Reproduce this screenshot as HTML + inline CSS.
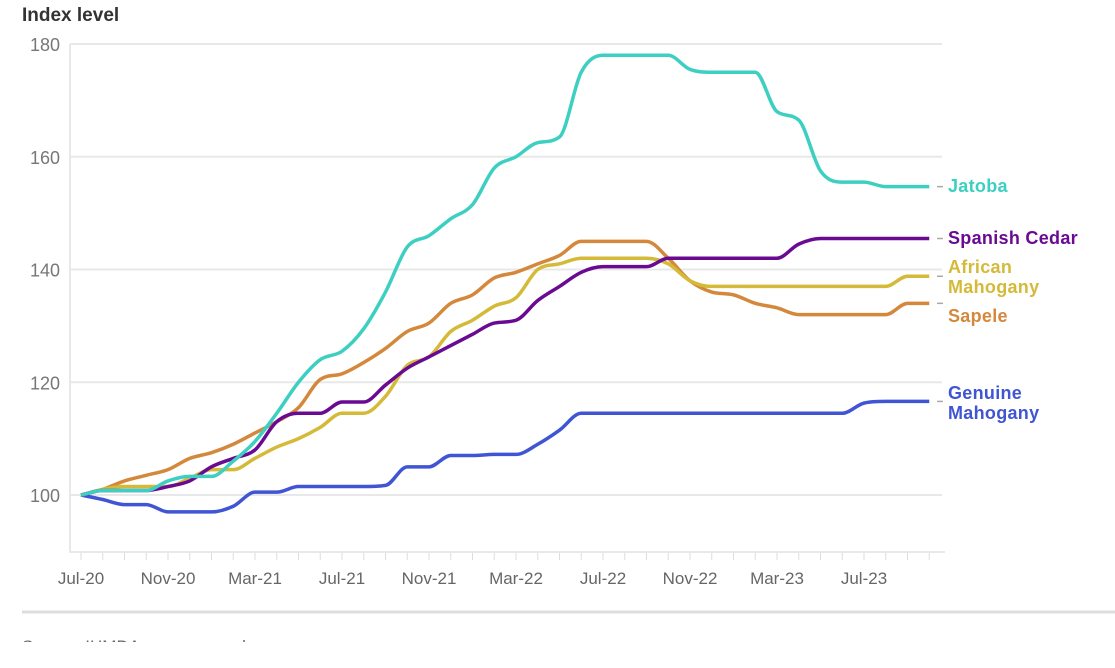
<!DOCTYPE html>
<html><head><meta charset="utf-8"><style>
body{margin:0;width:1115px;height:663px;overflow:hidden;background:#fff;font-family:"Liberation Sans",sans-serif}
</style></head><body>
<svg id="c" width="1115" height="663">
<defs><clipPath id="srcclip"><rect x="0" y="620" width="1115" height="22"/></clipPath></defs>
<text x="22" y="21" font-size="19" font-weight="bold" fill="#333">Index level</text>
<g id="grid"></g><g id="lines"></g><g id="labels"></g>
<line x1="22" y1="612" x2="1115" y2="612" stroke="#ddd" stroke-width="3"/>
<text x="22" y="652" font-size="17" fill="#666" clip-path="url(#srcclip)">Source: IHMDA, own research</text>
</svg>
<script>
const months=["Jul-20","Aug-20","Sep-20","Oct-20","Nov-20","Dec-20","Jan-21","Feb-21","Mar-21","Apr-21","May-21","Jun-21","Jul-21","Aug-21","Sep-21","Oct-21","Nov-21","Dec-21","Jan-22","Feb-22","Mar-22","Apr-22","May-22","Jun-22","Jul-22","Aug-22","Sep-22","Oct-22","Nov-22","Dec-22","Jan-23","Feb-23","Mar-23","Apr-23","May-23","Jun-23","Jul-23","Aug-23","Sep-23","Oct-23"];
const yTicks=[100,120,140,160,180];
const jatoba=[100,100.8,100.8,100.8,102.5,103.3,103.3,106,109.5,114.5,120,124,125.5,129.5,136,144,146,149,151.5,158,160,162.5,163.5,175,178,178,178,178,175.5,175,175,175,168,166.5,157.5,155.5,155.5,154.7,154.7,154.7];
const spanishCedar=[100,100.8,100.8,100.8,101.5,102.5,105,106.5,108,113,114.5,114.5,116.5,116.5,119.5,122.5,124.5,126.5,128.5,130.5,131,134.5,137,139.5,140.5,140.5,140.5,142,142,142,142,142,142,144.5,145.5,145.5,145.5,145.5,145.5,145.5];
const africanMahogany=[100,101,101.5,101.5,101.5,103,104.5,104.5,106.5,108.5,110,112,114.5,114.5,117.5,123,124.5,129,131,133.5,135,140,141,142,142,142,142,141,138,137,137,137,137,137,137,137,137,137,138.8,138.8];
const sapele=[100,101,102.5,103.5,104.5,106.5,107.5,109,111,113,115.5,120.5,121.5,123.5,126,129,130.5,134,135.5,138.5,139.5,141,142.5,145,145,145,145,142,138,136,135.5,134,133.2,132,132,132,132,132,134,134];
const genuineMahogany=[100,99.2,98.3,98.3,97,97,97,98,100.5,100.5,101.5,101.5,101.5,101.5,101.7,105,105,107,107,107.2,107.2,109,111.5,114.5,114.5,114.5,114.5,114.5,114.5,114.5,114.5,114.5,114.5,114.5,114.5,114.5,116.3,116.6,116.6,116.6];
const NS="http://www.w3.org/2000/svg";
const x=i=>81+i*21.75;
const y=v=>495-(v-100)*5.6375;
function mk(t,a,p){const e=document.createElementNS(NS,t);for(const k in a)e.setAttribute(k,a[k]);p.appendChild(e);return e;}
const grid=document.getElementById('grid');
yTicks.forEach(v=>{
 const l=mk('line',{x1:70,x2:942,y1:y(v),y2:y(v),stroke:'#e8e8e8','stroke-width':2},grid);
 
 
 const t=mk('text',{x:60,y:y(v)+7,'text-anchor':'end','font-size':18,fill:'#777'},grid);t.textContent=v;
 
 
});
const ax=mk('path',{d:'M70,44 V552 H945',fill:'none',stroke:'#e8e8e8','stroke-width':2},grid);


months.forEach((m,i)=>{
 const tk=mk('line',{x1:x(i),x2:x(i),y1:553,y2:560,stroke:'#ddd','stroke-width':1},grid);
 
 
 if(i%4==0){const t=mk('text',{x:x(i),y:584,'text-anchor':'middle','font-size':17,fill:'#666'},grid);t.textContent=m;
 
 }
});
function smooth(vals){
 const n=vals.length,px=vals.map((v,i)=>x(i)),py=vals.map(y);
 const d=[],m=[];for(let i=0;i<n-1;i++)d.push((py[i+1]-py[i])/(px[i+1]-px[i]));
 for(let i=0;i<n;i++){if(i==0)m.push(d[0]);else if(i==n-1)m.push(d[n-2]);else m.push(d[i-1]*d[i]<=0?0:(d[i-1]+d[i])/2);}
 for(let i=0;i<n-1;i++){if(d[i]==0){m[i]=0;m[i+1]=0;}else{const a=m[i]/d[i],b=m[i+1]/d[i],s=a*a+b*b;if(s>9){const t=3/Math.sqrt(s);m[i]=t*a*d[i];m[i+1]=t*b*d[i];}}}
 let p='M'+px[0]+','+py[0];
 for(let i=0;i<n-1;i++){const h=(px[i+1]-px[i])/3;p+=' C'+(px[i]+h)+','+(py[i]+m[i]*h)+' '+(px[i+1]-h)+','+(py[i+1]-m[i+1]*h)+' '+px[i+1]+','+py[i+1];}
 return p;
}
const series=[
 ['genuine-mahogany',genuineMahogany,'#3F55D4',['Genuine','Mahogany'],409],
 ['sapele',sapele,'#D4883C',['Sapele'],322],
 ['african-mahogany',africanMahogany,'#D4BA38',['African','Mahogany'],283],
 ['spanish-cedar',spanishCedar,'#6A0A93',['Spanish Cedar'],244],
 ['jatoba',jatoba,'#3CCFC2',['Jatoba'],192]];
const lg=document.getElementById('lines'),lb=document.getElementById('labels');
series.forEach(([nm,vals,col,lab,ly])=>{
 const p=mk('path',{d:smooth(vals),fill:'none',stroke:col,'stroke-width':3.5,'stroke-linejoin':'round'},lg);
 
 
 const last=y(vals[vals.length-1]);
 const c=mk('line',{x1:937,x2:943,y1:last,y2:last,stroke:'#aaa','stroke-width':1.5},lb);
 
 
 const t=mk('text',{x:948,y:ly-(lab.length-1)*10,'font-size':18,'font-weight':'bold',fill:col,'letter-spacing':'0.3'},lb);
 
 
 lab.forEach((s,k)=>{const ts=mk('tspan',{x:948,dy:k?20:0},t);ts.textContent=s;});
});
</script>
</body></html>
